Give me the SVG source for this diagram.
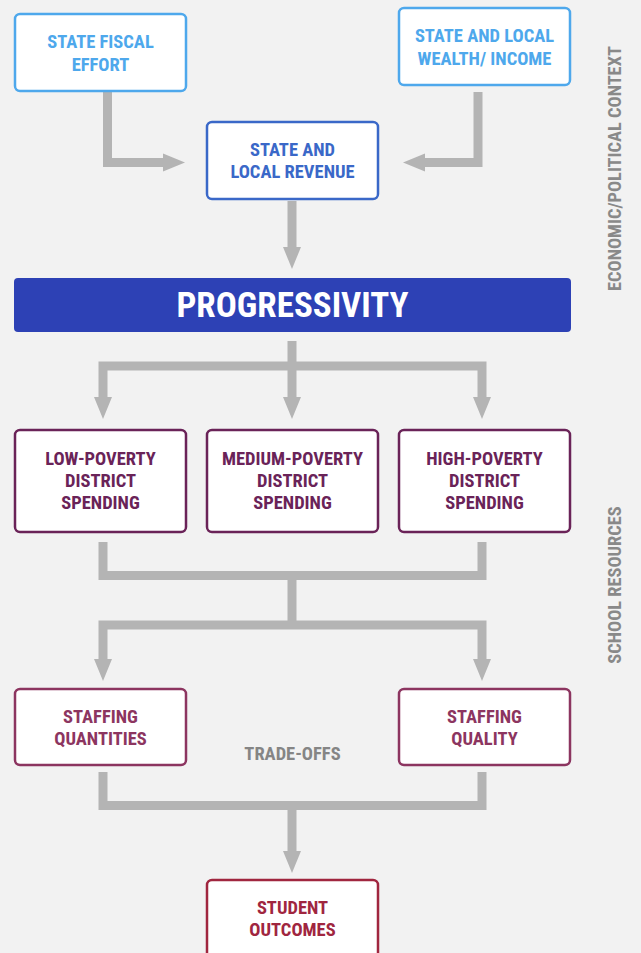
<svg xmlns="http://www.w3.org/2000/svg" width="641" height="953" viewBox="0 0 641 953">
<style>
text{font-family:"Liberation Sans Narrow","Roboto Condensed","Liberation Sans",Arial,sans-serif;font-weight:bold;text-anchor:middle;font-stretch:condensed}
.box{fill:#fff;stroke-width:2.5}
.t{font-size:18.5px}
.c{fill:none;stroke:#b4b4b4;stroke-width:9;stroke-linejoin:miter}
.side{font-size:18.4px;fill:#898989}
</style>
<defs>
<marker id="ah" markerUnits="userSpaceOnUse" markerWidth="22" markerHeight="18" refX="0" refY="9" orient="auto" overflow="visible">
<path d="M0,0 L22,9 L0,18 z" fill="#b4b4b4"/>
</marker>
</defs>
<rect width="641" height="953" fill="#f2f2f2"/>
<g id="connectors">
<path class="c" d="M107.5,92 V162.5 H163" marker-end="url(#ah)"/>
<path class="c" d="M478,92 V162.5 H425" marker-end="url(#ah)"/>
<path class="c" d="M292,201 V247" marker-end="url(#ah)"/>
<path class="c" d="M292,341 V366"/>
<path class="c" d="M103,397 V366 H482 V397"/>
<path class="c" d="M292,366 V397"/>
<path class="c" d="M103,542 V575.5 H482 V542"/>
<path class="c" d="M292,575.5 V625"/>
<path class="c" d="M103,659 V625 H482 V659"/>
<path class="c" d="M103,772 V805.5 H482 V772"/>
<path class="c" d="M292,805.5 V851" marker-end="url(#ah)"/>
<path d="M94,659 L112,659 L103,681 z M473,659 L491,659 L482,681 z M94,397 L112,397 L103,419 z M283,397 L301,397 L292,419 z M473,397 L491,397 L482,419 z" fill="#b4b4b4"/>
</g>
<g id="state-fiscal-effort">
<rect class="box" x="15" y="14" width="171" height="77" rx="5" stroke="#4ea8ec"/>
<text class="t" x="100.5" y="48" fill="#4ea8ec">STATE FISCAL</text>
<text class="t" x="100.5" y="71" fill="#4ea8ec">EFFORT</text>
</g>
<g id="state-local-wealth">
<rect class="box" x="399" y="8" width="171" height="77" rx="5" stroke="#4ea8ec"/>
<text class="t" x="484.5" y="42" fill="#4ea8ec">STATE AND LOCAL</text>
<text class="t" x="484.5" y="65" fill="#4ea8ec">WEALTH/ INCOME</text>
</g>
<g id="state-local-revenue">
<rect class="box" x="207" y="122" width="171" height="77" rx="5" stroke="#3a68c8"/>
<text class="t" x="292.5" y="156" fill="#3a68c8">STATE AND</text>
<text class="t" x="292.5" y="178" fill="#3a68c8">LOCAL REVENUE</text>
</g>
<g id="progressivity">
<rect x="14" y="278" width="557" height="54" rx="4" fill="#2d41b5"/>
<text x="292.5" y="317" font-size="35" fill="#ffffff">PROGRESSIVITY</text>
</g>
<g id="low-poverty">
<rect class="box" x="15" y="430" width="171" height="102" rx="5" stroke="#6a2358"/>
<text class="t" x="100.5" y="465" fill="#6a2358">LOW-POVERTY</text>
<text class="t" x="100.5" y="487" fill="#6a2358">DISTRICT</text>
<text class="t" x="100.5" y="509" fill="#6a2358">SPENDING</text>
</g>
<g id="medium-poverty">
<rect class="box" x="207" y="430" width="171" height="102" rx="5" stroke="#6a2358"/>
<text class="t" x="292.5" y="465" fill="#6a2358">MEDIUM-POVERTY</text>
<text class="t" x="292.5" y="487" fill="#6a2358">DISTRICT</text>
<text class="t" x="292.5" y="509" fill="#6a2358">SPENDING</text>
</g>
<g id="high-poverty">
<rect class="box" x="399" y="430" width="171" height="102" rx="5" stroke="#6a2358"/>
<text class="t" x="484.5" y="465" fill="#6a2358">HIGH-POVERTY</text>
<text class="t" x="484.5" y="487" fill="#6a2358">DISTRICT</text>
<text class="t" x="484.5" y="509" fill="#6a2358">SPENDING</text>
</g>
<g id="staffing-quantities">
<rect class="box" x="15" y="689" width="171" height="76" rx="5" stroke="#8c3560"/>
<text class="t" x="100.5" y="723" fill="#8c3560">STAFFING</text>
<text class="t" x="100.5" y="745" fill="#8c3560">QUANTITIES</text>
</g>
<g id="staffing-quality">
<rect class="box" x="399" y="689" width="171" height="76" rx="5" stroke="#8c3560"/>
<text class="t" x="484.5" y="723" fill="#8c3560">STAFFING</text>
<text class="t" x="484.5" y="745" fill="#8c3560">QUALITY</text>
</g>
<g id="trade-offs">
<text x="292.5" y="760" font-size="18.5" fill="#858585">TRADE-OFFS</text>
</g>
<g id="student-outcomes">
<rect class="box" x="207" y="880" width="171" height="90" rx="5" stroke="#a0263f"/>
<text class="t" x="292.5" y="914" fill="#a0263f">STUDENT</text>
<text class="t" x="292.5" y="936" fill="#a0263f">OUTCOMES</text>
</g>
<g id="side-labels">
<text class="side" transform="translate(621,168.5) rotate(-90)">ECONOMIC/POLITICAL CONTEXT</text>
<text class="side" transform="translate(621,585) rotate(-90)">SCHOOL RESOURCES</text>
</g>
</svg>
